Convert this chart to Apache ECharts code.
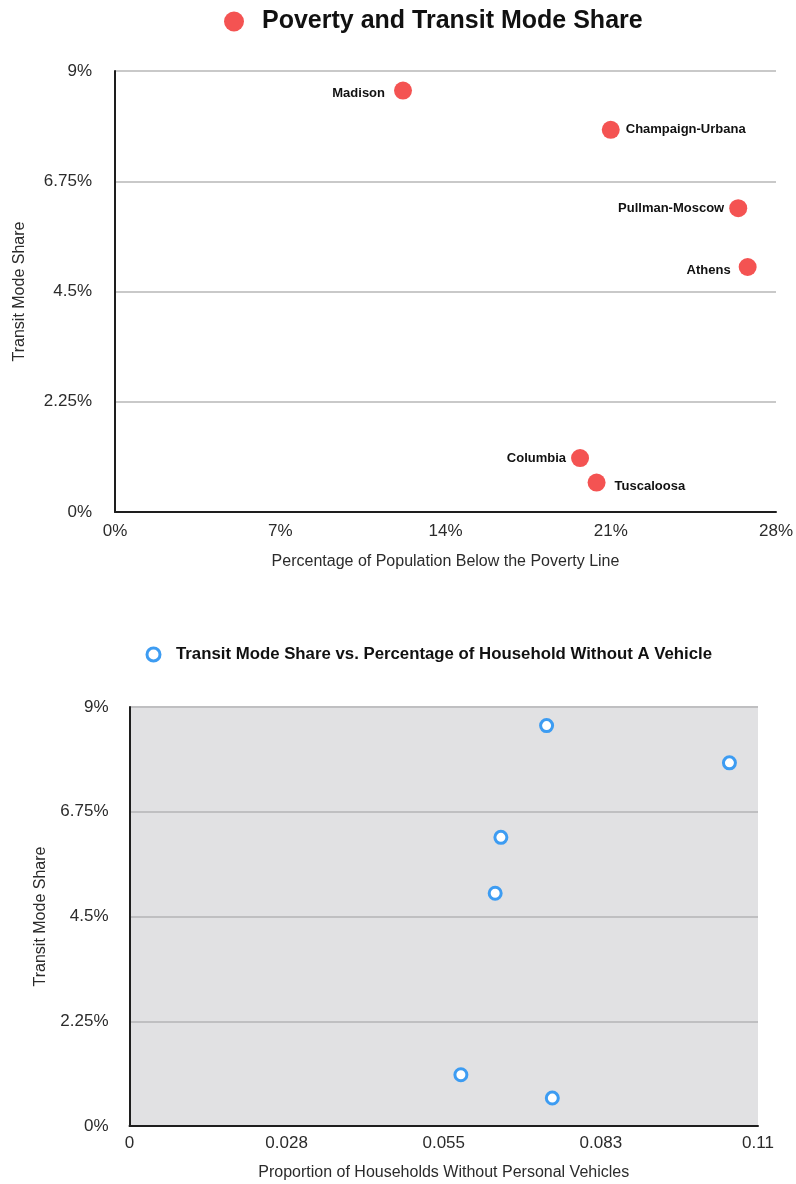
<!DOCTYPE html>
<html>
<head>
<meta charset="utf-8">
<script src="https://cdn.jsdelivr.net/npm/echarts@6/dist/echarts.min.js"></script>
<style>
  html, body { margin: 0; padding: 0; background: #ffffff; }
  #chart { width: 796px; height: 1184px; }
</style>
</head>
<body>
<div id="chart"></div>
<script>
// City names, shared by both panels
const cities = ['Madison', 'Champaign-Urbana', 'Pullman-Moscow', 'Athens', 'Columbia', 'Tuscaloosa'];
// Transit mode share (%)
const transitShare = [8.6, 7.8, 6.2, 5.0, 1.1, 0.6];
// Population below the poverty line (%)
const povertyRate = [12.2, 21.0, 26.4, 26.8, 19.7, 20.4];
// Proportion of households without personal vehicles
const noVehicleShare = [0.073, 0.105, 0.065, 0.064, 0.058, 0.074];

// Label placement per city in the upper panel
const labelSide = ['left', 'right', 'left', 'left', 'left', 'right'];
const labelShift = [[0, 3], [0, 0], [0, 0], [0, 3], [0, 0], [0, 4]];
const labelGap = [9, 6, 5, 8, 5, 9];

const FONT = '"Liberation Sans", Arial, Helvetica, sans-serif';
const TEXT = '#2b2b2b';

const povertyPoints = cities.map((c, i) => ({
  name: c,
  value: [povertyRate[i], transitShare[i]],
  label: { position: labelSide[i], offset: labelShift[i], distance: labelGap[i] }
}));
const vehiclePoints = cities.map((c, i) => ({ name: c, value: [noVehicleShare[i], transitShare[i]] }));

const pct = v => v + '%';
const fmt3 = v => v === 0 ? '0' : String(Math.round(v * 1000) / 1000);

const chart = echarts.init(document.getElementById('chart'), null, { renderer: 'canvas' });
chart.setOption({
  animation: false,
  textStyle: { fontFamily: FONT },
  legend: [
    {
      left: 219, top: 4, itemWidth: 20, itemHeight: 20, itemGap: 0,
      data: [{ name: 'Poverty and Transit Mode Share', icon: 'circle' }],
      textStyle: { fontFamily: FONT, fontSize: 25, fontWeight: 'bold', color: '#111', padding: [0, 0, 0, 13] }
    },
    {
      left: 140.5, top: 641, itemWidth: 13, itemHeight: 13,
      data: [{ name: 'Transit Mode Share vs. Percentage of Household Without A Vehicle', icon: 'circle',
               itemStyle: { color: '#ffffff', borderColor: '#3d9cf2', borderWidth: 3 } }],
      textStyle: { fontFamily: FONT, fontSize: 16.8, fontWeight: 'bold', color: '#111', padding: [0, 0, 0, 11] }
    }
  ],
  grid: [
    { left: 115, top: 71, width: 662, height: 441 },
    { left: 129.5, top: 707, width: 628.5, height: 419, show: true, backgroundColor: '#e1e1e3', borderWidth: 0 }
  ],
  xAxis: [
    {
      gridIndex: 0, type: 'value', min: 0, max: 28, interval: 7,
      name: 'Percentage of Population Below the Poverty Line', nameLocation: 'middle', nameGap: 42,
      nameTextStyle: { fontSize: 16, color: TEXT },
      axisLine: { lineStyle: { color: '#1e1e1e', width: 2 } },
      axisTick: { show: false }, splitLine: { show: false },
      axisLabel: { formatter: pct, fontSize: 17, color: TEXT, margin: 11 }
    },
    {
      gridIndex: 1, type: 'value', min: 0, max: 0.11, interval: 0.0275,
      name: 'Proportion of Households Without Personal Vehicles', nameLocation: 'middle', nameGap: 39,
      nameTextStyle: { fontSize: 16, color: TEXT },
      axisLine: { lineStyle: { color: '#1e1e1e', width: 2 } },
      axisTick: { show: false }, splitLine: { show: false },
      axisLabel: { formatter: fmt3, fontSize: 17, color: TEXT, margin: 9 }
    }
  ],
  yAxis: [
    {
      gridIndex: 0, type: 'value', min: 0, max: 9, interval: 2.25,
      name: 'Transit Mode Share', nameLocation: 'middle', nameGap: 87,
      nameTextStyle: { fontSize: 16, color: TEXT },
      axisLine: { show: true, lineStyle: { color: '#1e1e1e', width: 2 } },
      axisTick: { show: false },
      splitLine: { lineStyle: { color: '#c9c9c9', width: 2 } },
      axisLabel: { formatter: pct, fontSize: 17, color: TEXT, margin: 23 }
    },
    {
      gridIndex: 1, type: 'value', min: 0, max: 9, interval: 2.25,
      name: 'Transit Mode Share', nameLocation: 'middle', nameGap: 81,
      nameTextStyle: { fontSize: 16, color: TEXT },
      axisLine: { show: true, lineStyle: { color: '#1e1e1e', width: 2 } },
      axisTick: { show: false },
      splitLine: { lineStyle: { color: '#bfbfc1', width: 2 } },
      axisLabel: { formatter: pct, fontSize: 17, color: TEXT, margin: 21 }
    }
  ],
  series: [
    {
      name: 'Poverty and Transit Mode Share', type: 'scatter', xAxisIndex: 0, yAxisIndex: 0,
      symbol: 'circle', symbolSize: 18,
      itemStyle: { color: '#f45352', opacity: 1 },
      label: { show: true, formatter: '{b}', fontSize: 13, fontWeight: 'bold', color: '#111' },
      data: povertyPoints
    },
    {
      name: 'Transit Mode Share vs. Percentage of Household Without A Vehicle', type: 'scatter',
      xAxisIndex: 1, yAxisIndex: 1, symbol: 'circle', symbolSize: 12,
      itemStyle: { color: '#ffffff', borderColor: '#3d9cf2', borderWidth: 3, opacity: 1 },
      data: vehiclePoints
    }
  ]
});
</script>
</body>
</html>
